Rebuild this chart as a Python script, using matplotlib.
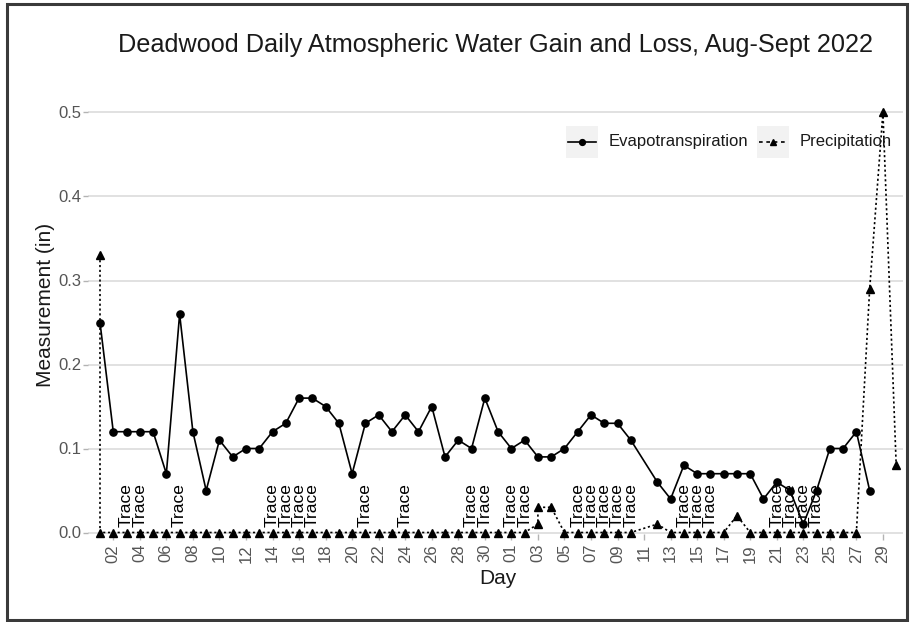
import matplotlib
matplotlib.use("Agg")
import matplotlib.pyplot as plt
import matplotlib.dates as mdates
from matplotlib.lines import Line2D
from matplotlib.patches import Rectangle
import pandas as pd

plt.rcParams['font.family'] = ['Liberation Sans', 'DejaVu Sans']

# ---------------- data ----------------
title = "Deadwood Daily Atmospheric Water Gain and Loss, Aug-Sept 2022"
x_label = "Day"
y_label = "Measurement (in)"
series_names = ["Evapotranspiration", "Precipitation"]
trace_label = "Trace"

et_dates = (
    [f"2022-08-{d:02d}" for d in range(1, 32)]
    + [f"2022-09-{d:02d}" for d in range(1, 11)]
    + [f"2022-09-{d:02d}" for d in range(12, 29)]
)
et_values = [
    # Aug 1-31
    0.25, 0.12, 0.12, 0.12, 0.12, 0.07, 0.26, 0.12, 0.05, 0.11,
    0.09, 0.10, 0.10, 0.12, 0.13, 0.16, 0.16, 0.15, 0.13, 0.07,
    0.13, 0.14, 0.12, 0.14, 0.12, 0.15, 0.09, 0.11, 0.10, 0.16, 0.12,
    # Sep 1-10
    0.10, 0.11, 0.09, 0.09, 0.10, 0.12, 0.14, 0.13, 0.13, 0.11,
    # Sep 12-28
    0.06, 0.04, 0.08, 0.07, 0.07, 0.07, 0.07, 0.07, 0.04, 0.06,
    0.05, 0.01, 0.05, 0.10, 0.10, 0.12, 0.05,
]

precip_dates = (
    ["2022-08-01", "2022-08-01"]
    + [f"2022-08-{d:02d}" for d in range(2, 32)]
    + ["2022-09-01", "2022-09-02", "2022-09-03", "2022-09-03", "2022-09-04"]
    + [f"2022-09-{d:02d}" for d in range(5, 11)]
    + [f"2022-09-{d:02d}" for d in range(12, 31)]
)
precip_values = (
    [0.33, 0.00]
    + [0.00] * 30
    + [0.00, 0.00, 0.01, 0.03, 0.03]
    + [0.00, 0.00, 0.00, 0.00, 0.00, 0.00]
    + [0.01, 0.00, 0.00, 0.00, 0.00, 0.00, 0.02, 0.00, 0.00, 0.00,
       0.00, 0.00, 0.00, 0.00, 0.00, 0.00, 0.29, 0.50, 0.08]
)

trace_dates = [
    "2022-08-03", "2022-08-04", "2022-08-07", "2022-08-14", "2022-08-15",
    "2022-08-16", "2022-08-17", "2022-08-21", "2022-08-24", "2022-08-29",
    "2022-08-30", "2022-09-01", "2022-09-02", "2022-09-06", "2022-09-07",
    "2022-09-08", "2022-09-09", "2022-09-10", "2022-09-14", "2022-09-15",
    "2022-09-16", "2022-09-21", "2022-09-22", "2022-09-23", "2022-09-24",
]

y_ticks = [0.0, 0.1, 0.2, 0.3, 0.4, 0.5]

# ---------------- layout helpers ----------------
W, H = 910, 622
def fx(px):
    return px / W
def fy(py):
    return 1 - py / H

fig = plt.figure(figsize=(W / 100, H / 100), dpi=100)
fig.patch.set_facecolor("white")

# panel
p_left, p_right, p_top, p_bottom = 88, 903, 80, 534.2
ax = fig.add_axes([fx(p_left), fy(p_bottom), (p_right - p_left) / W, (p_bottom - p_top) / H])

et_x = pd.to_datetime(et_dates)
pr_x = pd.to_datetime(precip_dates)
tr_x = pd.to_datetime(trace_dates)

ax.plot(et_x, et_values, color="black", lw=1.2, marker="o", ms=5.2,
        clip_on=False, zorder=3)
ax.plot(pr_x, precip_values, color="black", lw=1.2, ls=(0, (1.3, 1.6)),
        marker="^", ms=5.6, clip_on=False, zorder=3)

for d in tr_x:
    ax.text(d, 0.006, trace_label, rotation=90, ha="center", va="bottom",
            fontsize=12.5, color="black", zorder=4)

# scales
day0 = mdates.date2num(pd.Timestamp("2022-08-01"))
px_per_day = 13.27
ax.set_xlim(day0 - (100 - p_left) / px_per_day, day0 + (p_right - 100) / px_per_day)
zero_px, px_per_unit = 532.5, 840.0
ax.set_ylim((zero_px - p_bottom) / px_per_unit, (zero_px - p_top) / px_per_unit)

xt = pd.date_range("2022-08-02", "2022-09-30", freq="2D")
ax.set_xticks(xt)
ax.xaxis.set_major_formatter(mdates.DateFormatter("%d"))
ax.set_yticks(y_ticks)
ax.set_yticklabels([f"{v:.1f}" for v in y_ticks])

ax.tick_params(axis="x", labelrotation=90, labelsize=12, labelcolor="#555555",
               color="#B3B3B3", length=4, width=1, pad=3)
ax.tick_params(axis="y", labelsize=12, labelcolor="#555555",
               color="#B3B3B3", length=3.5, width=1, pad=1.5)
ax.yaxis.grid(True, color="#DCDCDC", lw=1.2)
ax.xaxis.grid(False)
ax.set_axisbelow(True)
for s in ax.spines.values():
    s.set_visible(False)
ax.set_facecolor("none")

# titles
fig.text(fx((p_left + p_right) / 2), fy(45), title, ha="center", va="center",
         fontsize=18.2, color="#1A1A1A")
fig.text(fx(498), fy(578), x_label, ha="center", va="center", fontsize=15,
         color="#1A1A1A")
fig.text(fx(46), fy(305), y_label, ha="center", va="center", rotation=90,
         fontsize=15, color="#1A1A1A")

# legend (inside top right)
key_y = 142
key_w = 32
legend_items = [
    (566, 609, series_names[0], "-", "o", 4.2),
    (757, 800, series_names[1], (0, (2.2, 2.2)), "^", 4.6),
]
for kx, tx, name, ls, mk, ms in legend_items:
    fig.patches.append(Rectangle((fx(kx), fy(key_y + key_w / 2)), key_w / W, key_w / H,
                                 transform=fig.transFigure, facecolor="#F2F2F2",
                                 edgecolor="none", zorder=5))
    fig.lines.append(Line2D([fx(kx + 2), fx(kx + key_w - 2)], [fy(key_y), fy(key_y)],
                            transform=fig.transFigure, color="black", lw=1.2, ls=ls,
                            zorder=6))
    fig.lines.append(Line2D([fx(kx + key_w / 2)], [fy(key_y)], transform=fig.transFigure,
                            color="black", marker=mk, ms=ms, ls="none", zorder=7))
    fig.text(fx(tx), fy(key_y), name, ha="left", va="center", fontsize=12,
             color="#1A1A1A", zorder=7)

# outer border
fig.patches.append(Rectangle((fx(7), fy(620)), (907 - 7) / W, (620 - 4) / H,
                             transform=fig.transFigure, facecolor="none",
                             edgecolor="#3A3A3A", lw=2.2, zorder=10))

fig.savefig("out.png", dpi=100, facecolor="white")
